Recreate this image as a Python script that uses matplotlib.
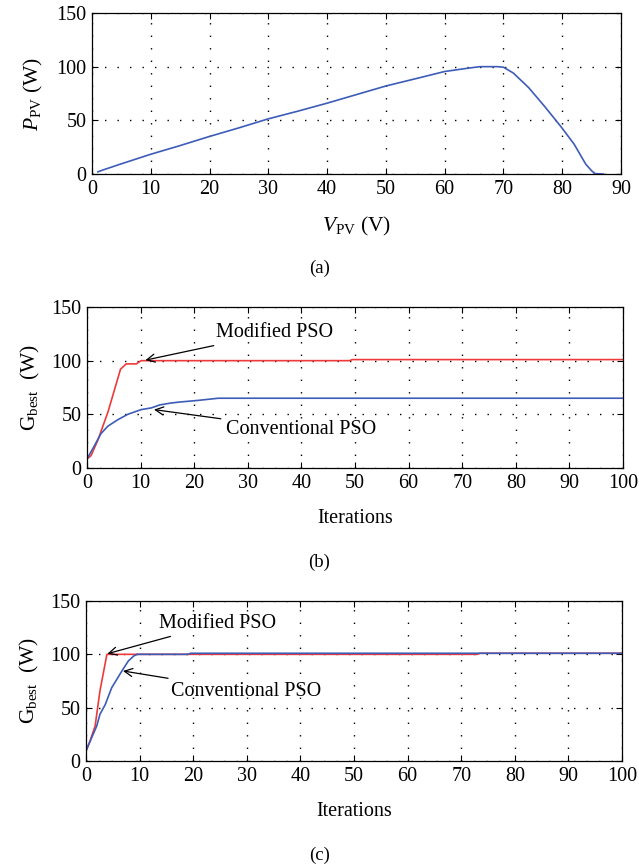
import matplotlib
matplotlib.use("Agg")
import matplotlib.pyplot as plt

plt.rcParams['font.family'] = ['Liberation Serif', 'DejaVu Serif']
plt.rcParams['mathtext.fontset'] = 'custom'
plt.rcParams['mathtext.rm'] = 'Liberation Serif'
plt.rcParams['mathtext.it'] = 'Liberation Serif:italic'

# ---- data ----
v_pv = [1, 2, 5, 10, 15, 20, 25, 30, 35, 40, 45, 50, 55, 60, 64, 66, 69, 70,
        71.7, 74.3, 77, 79.8, 82, 84, 85, 85.6, 87]
p_pv = [2, 4, 9.5, 18.4, 26.5, 35, 43, 51.4, 58.5, 66, 74, 82, 88.7, 95.5, 98.6,
        100, 100, 99.5, 94, 80.4, 63, 44, 28, 9.2, 3, 0.3, 0]

b_mod_it = [0, 0.75, 2, 3.9, 6.25, 7.3, 9.2, 10.1, 49, 49.5, 100]
b_mod_g = [8.4, 11.5, 25.6, 52, 92, 97, 97, 100, 100, 101, 101]
b_con_it = [0, 1.3, 2.6, 3.9, 5.75, 7.6, 10.1, 12, 13.6, 15.75, 17.6, 20.75, 24.5, 100]
b_con_g = [8.4, 20, 32, 39, 45, 50, 54.4, 56, 58.8, 60.6, 61.6, 63, 65, 65]

c_mod_it = [0, 0.75, 1.7, 2.6, 3.9, 73, 73.5, 100]
c_mod_g = [9.4, 18.75, 32.8, 65.6, 100, 100, 101, 101]
c_con_it = [0, 1.06, 2, 2.6, 3.6, 4.8, 6.7, 7.9, 8.9, 9.5, 19, 19.5, 100]
c_con_g = [9.4, 21.9, 32.8, 43.75, 53, 68.75, 84.4, 93.75, 98.4, 100, 100, 101, 101]

blue = '#3d5cb8'
red = '#ee3a3a'
FS = 14.5

fig = plt.figure(figsize=(6.39, 8.67), dpi=100)
W, H = 639, 867

def mkax(l, r, t, b):
    return fig.add_axes([l / W, 1 - b / H, (r - l) / W, (b - t) / H])

def style(ax, xlim, xticks):
    ax.set_xlim(*xlim)
    ax.set_ylim(0, 150)
    ax.set_xticks(xticks)
    ax.set_yticks([0, 50, 100, 150])
    ax.tick_params(direction='in', top=True, right=True, length=4, width=0.8,
                   labelsize=FS, pad=4)
    ax.grid(True, color='black', linestyle=(0, (1, 8)), linewidth=1.0)
    for s in ax.spines.values():
        s.set_linewidth(0.9)

arrow = dict(arrowstyle='->', color='black', lw=0.9, shrinkA=2, shrinkB=0)

# (a)
ax1 = mkax(92, 621, 13, 174)
ax1.plot(v_pv, p_pv, color=blue, lw=1.2)
style(ax1, (0, 90), range(0, 91, 10))
ax1.set_ylabel(r'$P_{\mathrm{PV}}$ (W)', fontsize=FS + 1, labelpad=8)
ax1.set_xlabel(r'$V_{\mathrm{PV}}$ (V)', fontsize=FS + 1, labelpad=12)
fig.text(0.5, 1 - 268 / H, '(a)', ha='center', va='center', fontsize=FS - 1)

# (b)
ax2 = mkax(87, 623, 307, 468)
ax2.plot(b_mod_it, b_mod_g, color=red, lw=1.2)
ax2.plot(b_con_it, b_con_g, color=blue, lw=1.2)
style(ax2, (0, 100), range(0, 101, 10))
ax2.set_ylabel(r'$\mathrm{G}_{\mathrm{best}}$  (W)', fontsize=FS + 1, labelpad=7)
ax2.set_xlabel('Iterations', fontsize=FS, labelpad=12)
ax2.annotate('Modified PSO', xy=(10.9, 100.5), xytext=(24, 126), fontsize=FS,
             va='center', ha='left', arrowprops=arrow)
ax2.annotate('Conventional PSO', xy=(12.5, 54.4), xytext=(26, 35.6), fontsize=FS,
             va='center', ha='left', arrowprops=arrow)
fig.text(0.5, 1 - 562 / H, '(b)', ha='center', va='center', fontsize=FS - 1)

# (c)
ax3 = mkax(86, 622, 601, 761)
ax3.plot(c_mod_it, c_mod_g, color=red, lw=1.2)
ax3.plot(c_con_it, c_con_g, color=blue, lw=1.2)
style(ax3, (0, 100), range(0, 101, 10))
ax3.set_ylabel(r'$\mathrm{G}_{\mathrm{best}}$  (W)', fontsize=FS + 1, labelpad=7)
ax3.set_xlabel('Iterations', fontsize=FS, labelpad=12)
ax3.annotate('Modified PSO', xy=(4.0, 100.6), xytext=(13.7, 129), fontsize=FS,
             va='center', ha='left', arrowprops=arrow)
ax3.annotate('Conventional PSO', xy=(6.9, 84.4), xytext=(15.9, 65.6), fontsize=FS,
             va='center', ha='left', arrowprops=arrow)
fig.text(0.5, 1 - 855 / H, '(c)', ha='center', va='center', fontsize=FS - 1)

fig.savefig('out.png', dpi=100)
